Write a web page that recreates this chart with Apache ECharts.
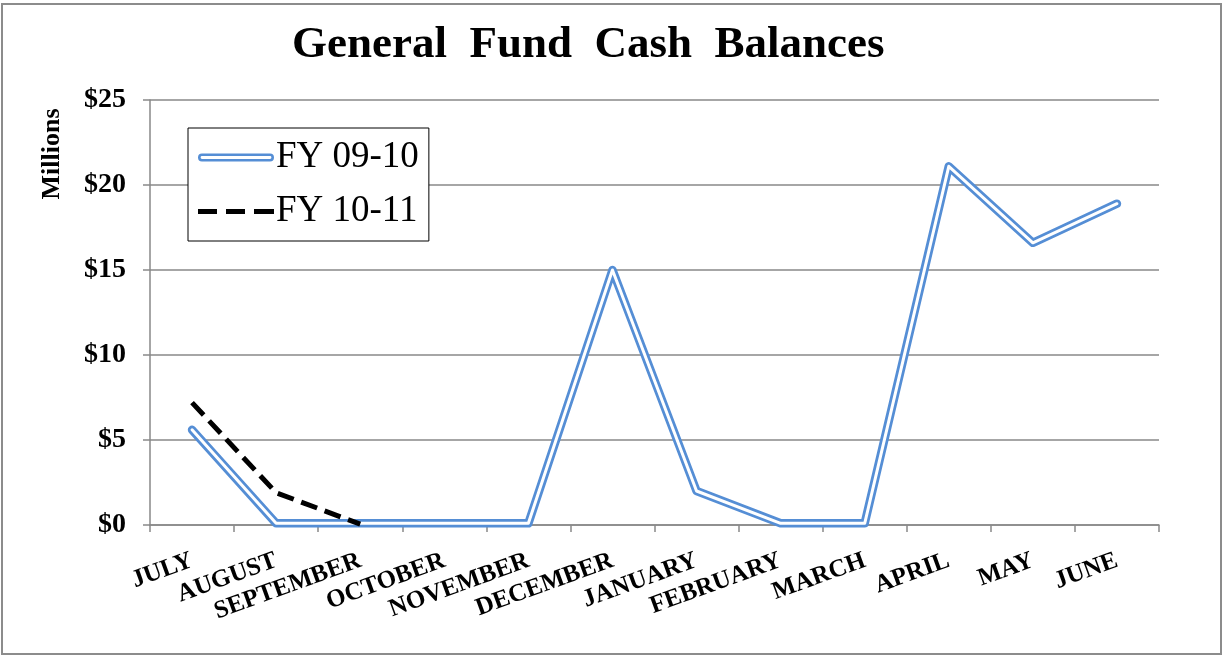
<!DOCTYPE html>
<html>
<head>
<meta charset="utf-8">
<script src="https://cdn.jsdelivr.net/npm/echarts@6/dist/echarts.min.js"></script>
<style>
  html, body { margin: 0; padding: 0; background: #fff; }
  #chart { width: 1225px; height: 658px; }
</style>
</head>
<body>
<div id="chart"></div>
<script>
const months = ['JULY', 'AUGUST', 'SEPTEMBER', 'OCTOBER', 'NOVEMBER', 'DECEMBER',
  'JANUARY', 'FEBRUARY', 'MARCH', 'APRIL', 'MAY', 'JUNE']
// millions of dollars
const fy0910 = [5.6, 0.1, 0.1, 0.1, 0.1, 15.0, 2.0, 0.1, 0.1, 21.1, 16.6, 18.9]
const fy1011 = [7.2, 1.9, 0.05, null, null, null, null, null, null, null, null, null]
const yTicks = [0, 5, 10, 15, 20, 25]

const serif = 'Liberation Serif'
const blue = '#558ED5'
const grey = '#898989'

const chart = echarts.init(document.getElementById('chart'))

const option = {
  animation: false,
  title: {
    text: 'General  Fund  Cash  Balances',
    left: 287,
    top: 18,
    textStyle: {fontFamily: serif, fontSize: 45, fontWeight: 'bold', color: '#000'}
  },
  legend: {
    orient: 'vertical',
    left: 188,
    top: 128,
    padding: [11, 10, 11, 10],
    itemGap: 17,
    itemWidth: 76,
    itemHeight: 8,
    borderColor: '#000',
    borderWidth: 1,
    backgroundColor: '#fff',
    textStyle: {fontFamily: serif, fontSize: 37, color: '#000', padding: [0, 0, 0, -3]},
    data: [
      {name: 'FY 09-10', icon: 'path://M4,0 H72 A4,4 0 0 1 72,8 H4 A4,4 0 0 1 4,0 Z M4,2.6 A1.4,1.4 0 0 0 4,5.4 H72 A1.4,1.4 0 0 0 72,2.6 Z'},
      {name: 'FY 10-11', icon: 'path://M0,1.5 H19 V6.5 H0 Z M28,1.5 H47 V6.5 H28 Z M56,1.5 H76 V6.5 H56 Z'}
    ]
  },
  grid: {left: 150, right: 66, top: 100, bottom: 133},
  xAxis: {
    type: 'category',
    data: months,
    boundaryGap: true,
    axisLine: {lineStyle: {color: grey, width: 1.5}},
    axisTick: {show: true, interval: 0, length: 7, lineStyle: {color: grey, width: 1.5}},
    axisLabel: {
      interval: 0,
      hideOverlap: false,
      rotate: 20,
      margin: 35,
      fontFamily: serif,
      fontSize: 25,
      fontWeight: 'bold',
      color: '#000'
    }
  },
  yAxis: {
    type: 'value',
    min: 0,
    max: 25,
    interval: 5,
    axisLine: {show: true, lineStyle: {color: grey, width: 1.5}},
    axisTick: {show: true, length: 7, lineStyle: {color: grey, width: 1.5}},
    splitLine: {lineStyle: {color: grey, width: 1.5}},
    axisLabel: {
      margin: 24,
      fontFamily: serif,
      fontSize: 28,
      fontWeight: 'bold',
      color: '#000',
      formatter: v => yTicks.includes(v) ? '$' + v : ''
    }
  },
  graphic: [
    {
      type: 'rect',
      shape: {x: 2, y: 4, width: 1219, height: 650},
      style: {fill: 'none', stroke: '#8c8c8c', lineWidth: 2},
      silent: true
    },
    {
      type: 'text',
      x: 52,
      y: 154,
      rotation: Math.PI / 2,
      style: {
        text: 'Millions',
        font: 'bold 26px "Liberation Serif"',
        fill: '#000',
        align: 'center',
        verticalAlign: 'middle'
      }
    }
  ],
  series: [
    {
      name: 'FY 09-10',
      type: 'line',
      data: fy0910,
      symbol: 'none',
      z: 3,
      lineStyle: {color: blue, width: 8.5, join: 'round', cap: 'round'},
      itemStyle: {color: blue}
    },
    {
      name: 'FY 09-10 inner',
      type: 'line',
      data: fy0910,
      symbol: 'none',
      z: 4,
      lineStyle: {color: '#fff', width: 3, join: 'round', cap: 'round'},
      itemStyle: {color: '#fff'}
    },
    {
      name: 'FY 10-11',
      type: 'line',
      data: fy1011,
      symbol: 'none',
      z: 5,
      lineStyle: {color: '#000', width: 5, type: [17, 8]},
      itemStyle: {color: '#000'}
    }
  ]
}

chart.setOption(option)
</script>
</body>
</html>
